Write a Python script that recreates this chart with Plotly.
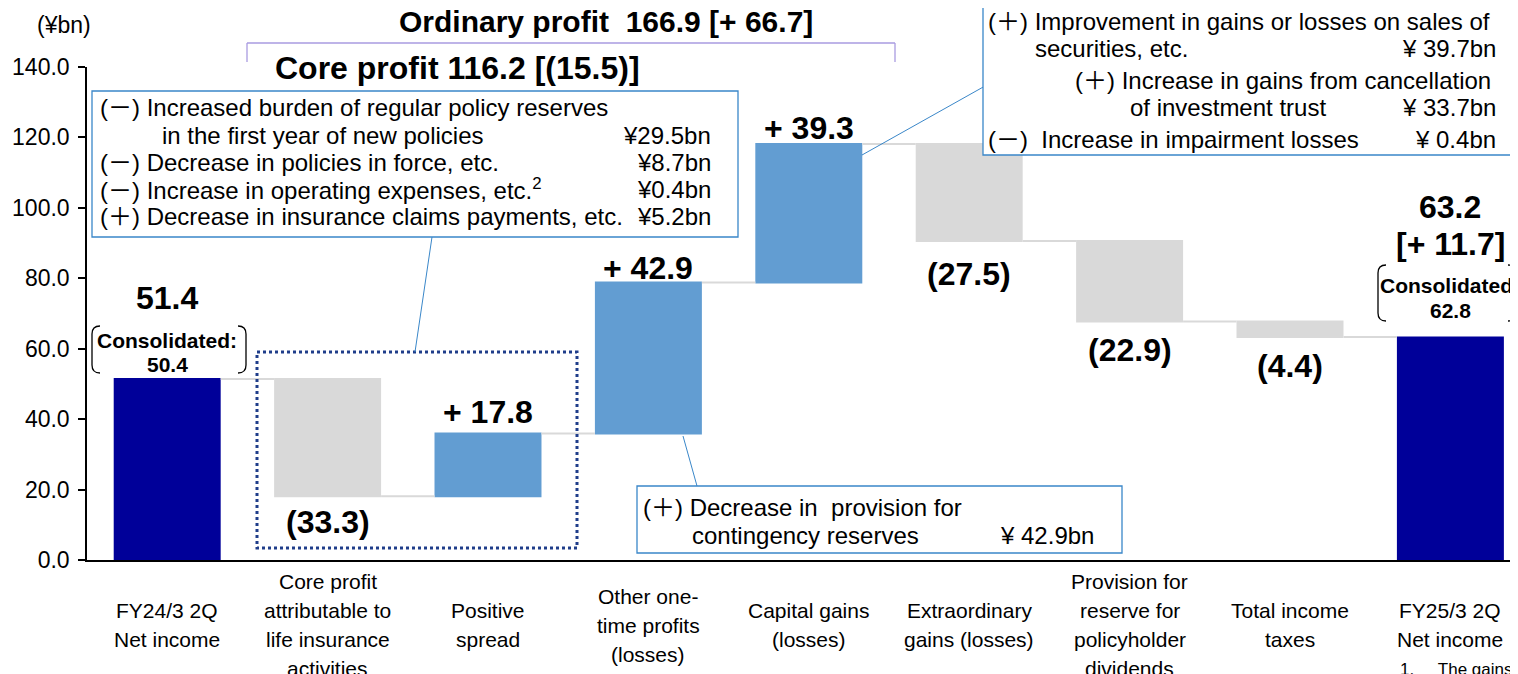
import plotly.graph_objects as go

# ---------------- data ----------------
category_lines = [
    ["FY24/3 2Q", "Net income"],
    ["Core profit", "attributable to", "life insurance", "activities"],
    ["Positive", "spread"],
    ["Other one-", "time profits", "(losses)"],
    ["Capital gains", "(losses)"],
    ["Extraordinary", "gains (losses)"],
    ["Provision for", "reserve for", "policyholder", "dividends"],
    ["Total income", "taxes"],
    ["FY25/3 2Q", "Net income"],
]
measures = ["absolute", "relative", "relative", "relative", "relative",
            "relative", "relative", "relative", "absolute"]
values = [51.4, -33.3, 17.8, 42.9, 39.3, -27.5, -22.9, -4.4, 63.2]
value_labels = ["51.4", "(33.3)", "+ 17.8", "+ 42.9", "+ 39.3",
                "(27.5)", "(22.9)", "(4.4)", "63.2"]
y_ticks = [0, 20, 40, 60, 80, 100, 120, 140]

unit_text = "(¥bn)"
ordinary_profit_text = "Ordinary profit \u00a0166.9 [+ 66.7]"
core_profit_text = "Core profit 116.2 [(15.5)]"
end_change_text = "[+ 11.7]"
consolidated_label = "Consolidated:"
start_consolidated = "50.4"
end_consolidated = "62.8"

box1_left = ["(－) Increased burden of regular policy reserves",
             "in the first year of new policies",
             "(－) Decrease in policies in force, etc.",
             "(－) Increase in operating expenses, etc.<sup>2</sup>",
             "(＋) Decrease in insurance claims payments, etc."]
box1_right = ["", "¥29.5bn", "¥8.7bn", "¥0.4bn", "¥5.2bn"]

box2_left = ["(＋) Improvement in gains or losses on sales of",
             "securities, etc.",
             "(＋) Increase in gains from cancellation",
             "of investment trust",
             "(－)\u00a0 Increase in impairment losses"]
box2_right = ["", "¥ 39.7bn", "", "¥ 33.7bn", "¥ 0.4bn"]

box3_left = ["(＋) Decrease in \u00a0provision for", "contingency reserves"]
box3_right = ["", "¥ 42.9bn"]

footnote_text = "1.\u00a0\u00a0\u00a0\u00a0\u00a0The gains"

# ---------------- styles / layout ----------------
FONT = "Liberation Sans, Arial, Noto Sans CJK JP, sans-serif"
OFF = 8                      # page body margin of the html page
SW, SH = 1518, 674           # screenshot size
W, H = SW - OFF, SH - OFF    # figure size
# plot area in screenshot pixels
L_S, R_S, T_S, B_S = 87, 1518, 67, 560
L, R, T, B = L_S - OFF, R_S - OFF, T_S - OFF, B_S - OFF
CAT_PX = 160.4
Y_MAX = 140.0
C_INC, C_DEC, C_TOT = "#629dd2", "#d9d9d9", "#000099"
C_BOX = "#3a87c9"
BOX_FS = 24

label_gap_px = [81, -26, 22, 15, 16, -33, -28, -29, 130]


def px(xs):
    """screenshot x pixel -> paper x"""
    return (xs - L_S) / (R_S - L_S)


def py(ys):
    """screenshot y pixel -> paper y"""
    return (B_S - ys) / (B_S - T_S)


n = len(values)
lows, highs = [], []
running = 0.0
for m, v in zip(measures, values):
    if m == "absolute":
        base, top = 0.0, v
        running = v
    else:
        base = running
        running += v
        top = running
    lows.append(min(base, top))
    highs.append(max(base, top))

fig = go.Figure(go.Waterfall(
    x=list(range(n)), y=values, measure=measures, width=0.667,
    increasing=dict(marker=dict(color=C_INC)),
    decreasing=dict(marker=dict(color=C_DEC)),
    totals=dict(marker=dict(color=C_TOT)),
    connector=dict(line=dict(color="#d9d9d9", width=2)),
    hoverinfo="skip", showlegend=False,
))

annotations = []
shapes = []


def ann(text, x, y, size, bold=False, xanchor="center", yanchor="middle",
        xref="paper", yref="paper", yshift=0, color="black"):
    if bold:
        text = "<b>" + text + "</b>"
    annotations.append(dict(text=text, x=x, y=y, xref=xref, yref=yref,
                            xanchor=xanchor, yanchor=yanchor, yshift=yshift,
                            showarrow=False,
                            font=dict(size=size, color=color, family=FONT)))


def line(x0, y0, x1, y1, color, width=1, dash="solid"):
    shapes.append(dict(type="line", xref="paper", yref="paper",
                       x0=px(x0), y0=py(y0), x1=px(x1), y1=py(y1),
                       line=dict(color=color, width=width, dash=dash)))


def rect(x0, y0, x1, y1, color, width=1.3, dash="solid", fill="white"):
    shapes.append(dict(type="rect", xref="paper", yref="paper", layer="above",
                       x0=px(x0), y0=py(y0), x1=px(x1), y1=py(y1),
                       fillcolor=fill, line=dict(color=color, width=width, dash=dash)))


def bracket(xl, xr, yt, yb):
    d, c = 8, 8
    pl = (f"M{px(xl + d)},{py(yt)} Q{px(xl)},{py(yt)} {px(xl)},{py(yt + c)} "
          f"L{px(xl)},{py(yb - c)} Q{px(xl)},{py(yb)} {px(xl + d)},{py(yb)}")
    pr = (f"M{px(xr - d)},{py(yt)} Q{px(xr)},{py(yt)} {px(xr)},{py(yt + c)} "
          f"L{px(xr)},{py(yb - c)} Q{px(xr)},{py(yb)} {px(xr - d)},{py(yb)}")
    for p in (pl, pr):
        shapes.append(dict(type="path", xref="paper", yref="paper", path=p,
                           line=dict(color="black", width=1.3)))


# bar value labels
for i in range(n):
    gap = label_gap_px[i]
    yv = highs[i] if gap > 0 else lows[i]
    ann(value_labels[i], i, yv, 32, bold=True, xref="x", yref="y", yshift=gap)
ann(end_change_text, n - 1, highs[n - 1], 32, bold=True, xref="x", yref="y", yshift=93)

# consolidated notes
ann(consolidated_label, 0, highs[0], 21, bold=True, xref="x", yref="y", yshift=39)
ann(start_consolidated, 0, highs[0], 21, bold=True, xref="x", yref="y", yshift=15)
ann(consolidated_label, n - 1, highs[n - 1], 21, bold=True, xref="x", yref="y", yshift=52)
ann(end_consolidated, n - 1, highs[n - 1], 21, bold=True, xref="x", yref="y", yshift=27)
bracket(92, 246, 326, 373)
bracket(1378, 1516, 265, 321)

# category labels (one annotation per line)
LINE_SP = 29
for i, lines in enumerate(category_lines):
    k = len(lines)
    for j, t in enumerate(lines):
        ys = 625 + (j - (k - 1) / 2) * LINE_SP
        ann(t, i, py(ys), 21, xref="x")

# titles
ann(unit_text, px(64), py(25), 23)
ann(ordinary_profit_text, px(606), py(22), 30, bold=True)
ann(core_profit_text, px(457), py(68), 32, bold=True)
line(247, 43, 895, 43, "#a99be0", 1.3)
line(247, 43, 247, 62, "#a99be0", 1.3)
line(895, 43, 895, 62, "#a99be0", 1.3)

# dotted box around core profit bars
rect(257, 352, 577, 548, "#1f3d8a", width=3, dash="dot", fill="rgba(0,0,0,0)")

# callout box 1
line(432, 237, 415, 352, C_BOX, 1)
rect(92, 91, 738, 237, C_BOX)
b1_x = [98, 160, 98, 98, 98]
b1_y = [108, 135, 162, 189, 216]
for t, xl, ys in zip(box1_left, b1_x, b1_y):
    ann(t, px(xl), py(ys), BOX_FS, xanchor="left")
for t, ys in zip(box1_right, b1_y):
    if t:
        ann(t, px(713), py(ys), BOX_FS, xanchor="right")

# callout box 2
line(985, 86, 862, 155, C_BOX, 1)
rect(983, 5, 1515, 155, C_BOX)
b2_x = [986, 1033, 1073, 1128, 986]
b2_y = [22, 48, 81, 108, 140]
for t, xl, ys in zip(box2_left, b2_x, b2_y):
    ann(t, px(xl), py(ys), BOX_FS, xanchor="left")
for t, ys in zip(box2_right, b2_y):
    if t:
        ann(t, px(1498), py(ys), BOX_FS, xanchor="right")

# callout box 3
line(683, 436, 697, 486, C_BOX, 1)
rect(637, 486, 1122, 553, C_BOX)
b3_x = [641, 690]
b3_y = [507, 535]
for t, xl, ys in zip(box3_left, b3_x, b3_y):
    ann(t, px(xl), py(ys), BOX_FS, xanchor="left")
for t, ys in zip(box3_right, b3_y):
    if t:
        ann(t, px(1096), py(ys), BOX_FS, xanchor="right")

# footnote (cut at the right edge in the original)
ann(footnote_text, px(1398), py(669), 17, xanchor="left")

fig.update_layout(
    width=W, height=H,
    margin=dict(l=L, r=W - R, t=T, b=H - B, pad=0),
    plot_bgcolor="white", paper_bgcolor="white",
    font=dict(family=FONT, color="black"),
    annotations=annotations, shapes=shapes,
    xaxis=dict(range=[-0.5, -0.5 + (R - L) / CAT_PX], showticklabels=False,
               showgrid=False, zeroline=False, showline=True,
               linecolor="black", linewidth=1.5, ticks=""),
    yaxis=dict(range=[0, Y_MAX], tickvals=y_ticks,
               ticktext=[f"{v:.1f}" for v in y_ticks],
               ticks="outside", ticklen=7, tickwidth=1.5, tickcolor="black",
               ticklabelstandoff=4,
               showline=True, linecolor="black", linewidth=1.5,
               showgrid=False, zeroline=False,
               tickfont=dict(size=23, family=FONT, color="black")),
)

fig.write_html("out.html")
